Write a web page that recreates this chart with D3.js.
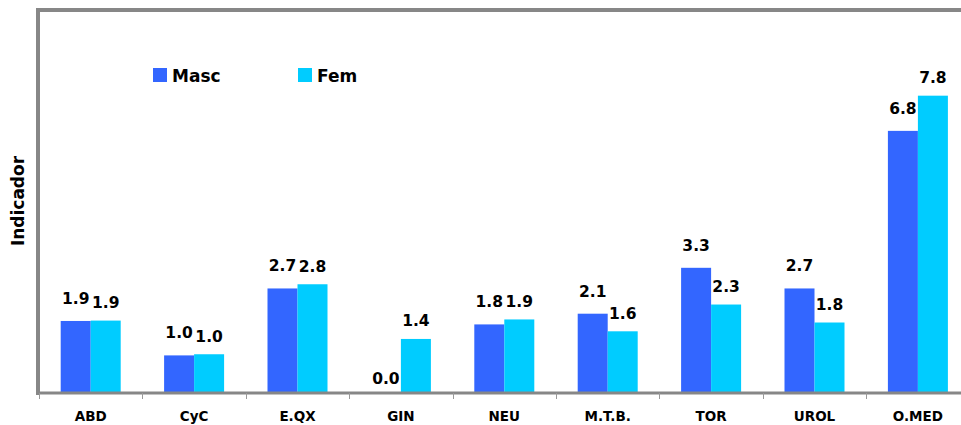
<!DOCTYPE html>
<html><head><meta charset="utf-8">
<script src="https://cdn.jsdelivr.net/npm/d3@7"></script>
<style>body{margin:0;background:#fff}svg{display:block}text{font-family:"DejaVu Sans",Verdana,sans-serif;font-weight:bold}</style>
</head><body>
<svg id="chart" width="961" height="425"></svg>
<script>
const categories = ["ABD","CyC","E.QX","GIN","NEU","M.T.B.","TOR","UROL","O.MED"];
const masc = [1.87,0.97,2.72,0.0,1.78,2.06,3.26,2.72,6.84];
const fem  = [1.88,1.00,2.83,1.40,1.91,1.60,2.30,1.83,7.76];
const seriesNames = ["Masc","Fem"];
const colors = ["#3366FF","#00CCFF"];
const yDomain = [0,10];

const svg = d3.select("#chart");
const x0 = d3.scaleBand().domain(categories).range([39, 39+9*103.4]).paddingInner(0).paddingOuter(0);
const y = d3.scaleLinear().domain(yDomain).range([392.5, 10]);
const barW = 30;

// frame lines
svg.append("line").attr("x1",38).attr("x2",38).attr("y1",8).attr("y2",395).attr("stroke","#878787").attr("stroke-width",4);
svg.append("line").attr("x1",36).attr("x2",961).attr("y1",10).attr("y2",10).attr("stroke","#878787").attr("stroke-width",4);

const data = categories.map((c,i)=>({c, vals:[masc[i],fem[i]]}));
const g = svg.append("g");
data.forEach(d=>{
  const cx = x0(d.c) + x0.bandwidth()/2;
  d.vals.forEach((v,j)=>{
    const bx = cx - barW + j*barW;
    g.append("rect").attr("x",bx).attr("y",y(v)).attr("width",barW).attr("height",y(0)-y(v)).attr("fill",colors[j]);
    g.append("text").attr("x",bx+barW/2).attr("y",y(v)-(j===0?(v===0?9:17):12.5))
      .attr("text-anchor","middle").attr("font-size",15.5).attr("fill","#000").text(v.toFixed(1));
  });
});

// bottom axis
const ax = svg.append("g").attr("transform","translate(0,393)");
ax.append("line").attr("x1",36).attr("x2",961).attr("y1",0).attr("y2",0).attr("stroke","#878787").attr("stroke-width",3);
categories.forEach(c=>{
  ax.append("line").attr("x1",Math.round(x0(c))+0.5).attr("x2",Math.round(x0(c))+0.5).attr("y1",0).attr("y2",6).attr("stroke","#999").attr("stroke-width",1);
  ax.append("text").attr("x",x0(c)+x0.bandwidth()/2).attr("y",28).attr("text-anchor","middle").attr("font-size",13.5).attr("fill","#000").text(c);
});

// y title
svg.append("text").attr("transform","translate(24,201) rotate(-90)").attr("text-anchor","middle").attr("font-size",17).attr("fill","#000").text("Indicador");

// legend
const legX = [153,298];
seriesNames.forEach((n,j)=>{
  svg.append("rect").attr("x",legX[j]).attr("y",68).attr("width",14).attr("height",14).attr("fill",colors[j]);
  svg.append("text").attr("x",legX[j]+19).attr("y",82).attr("font-size",17).attr("fill","#000").text(n);
});
</script>
</body></html>
